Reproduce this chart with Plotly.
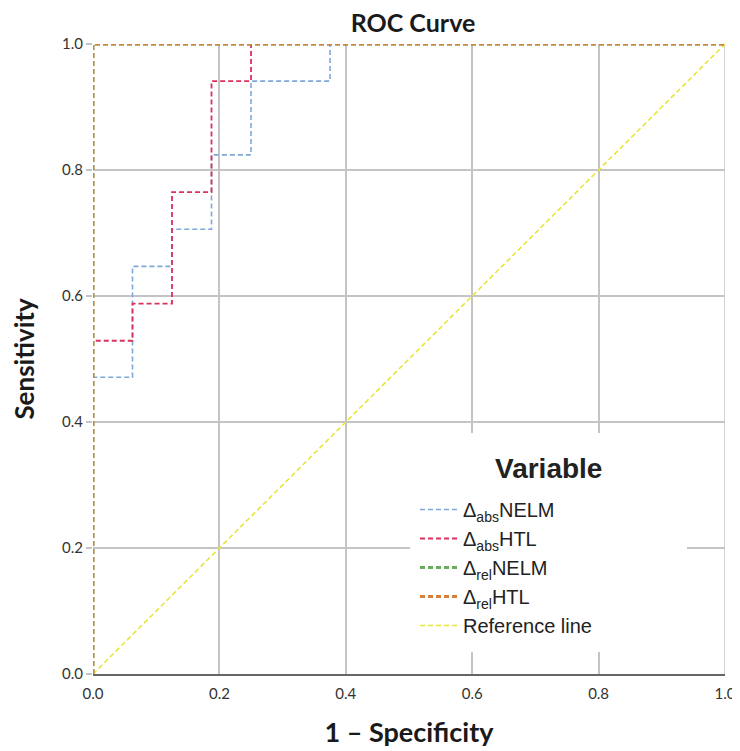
import plotly.graph_objects as go

# ROC step curves (1 - specificity, sensitivity)
abs_nelm_fpr = [0.0, 0.0, 0.0625, 0.0625, 0.125, 0.125, 0.1875, 0.1875, 0.25, 0.25, 0.375, 0.375, 1.0]
abs_nelm_tpr = [0.0, 0.471, 0.471, 0.647, 0.647, 0.706, 0.706, 0.824, 0.824, 0.941, 0.941, 1.0, 1.0]

abs_htl_fpr = [0.0, 0.0, 0.0625, 0.0625, 0.125, 0.125, 0.1875, 0.1875, 0.25, 0.25, 1.0]
abs_htl_tpr = [0.0, 0.529, 0.529, 0.588, 0.588, 0.765, 0.765, 0.941, 0.941, 1.0, 1.0]

rel_nelm_fpr = [0.0, 0.0, 1.0]
rel_nelm_tpr = [0.0, 1.0, 1.0]

rel_htl_fpr = [0.0, 0.0, 1.0]
rel_htl_tpr = [0.0, 1.0, 1.0]

ref_fpr = [0.0, 1.0]
ref_tpr = [0.0, 1.0]

tick_vals = [0, 0.2, 0.4, 0.6, 0.8, 1.0]
tick_text = ["0.0", "0.2", "0.4", "0.6", "0.8", "1.0"]

names = ["Δ<sub>abs</sub>NELM", "Δ<sub>abs</sub>HTL", "Δ<sub>rel</sub>NELM", "Δ<sub>rel</sub>HTL", "Reference line"]
colors = ["#7fa7d9", "#d9305c", "#6aab5e", "#d4803f", "#e6e63c"]
widths = [1.6, 1.8, 2.8, 2.8, 1.6]
xs = [abs_nelm_fpr, abs_htl_fpr, rel_nelm_fpr, rel_htl_fpr, ref_fpr]
ys = [abs_nelm_tpr, abs_htl_tpr, rel_nelm_tpr, rel_htl_tpr, ref_tpr]

# page has an 8px body margin: figure drawn at (8, 8)
OFF = 8
W, H = 740 - OFF, 751 - OFF
PL, PR, PT, PB = 93, 725, 44, 674   # plot area in page pixels

fig = go.Figure()
order = [4, 0, 1, 2, 3]
for i in order:
    fig.add_trace(go.Scatter(x=xs[i], y=ys[i], mode="lines", name=names[i],
                             legendrank=i + 1, cliponaxis=False,
                             line=dict(color=colors[i], width=widths[i], dash="5px,3px")))

grid = "#c4c4c4"
fig.update_layout(
    width=W, height=H,
    margin=dict(l=PL - OFF, r=740 - PR, t=PT - OFF, b=751 - PB),
    paper_bgcolor="white", plot_bgcolor="white",
    title=dict(text="<b>ROC Curve</b>", x=(413 - OFF) / W, xanchor="center",
               y=1 - (23 - OFF) / H, yanchor="middle",
               font=dict(family="Lato", size=25, color="#1a1a1a")),
    xaxis=dict(range=[0, 1], tickvals=tick_vals, ticktext=tick_text,
               showgrid=True, gridcolor=grid, gridwidth=1.5,
               showline=True, linecolor="#666", linewidth=1.5,
               zeroline=False, ticks="", automargin=False, ticklabelstandoff=5,
               tickfont=dict(family="Lato", size=15, color="#333"),
               title=dict(text="<b>1 – Specificity</b>", standoff=22,
                          font=dict(family="Lato", size=27, color="#1a1a1a"))),
    yaxis=dict(range=[0, 1], tickvals=tick_vals, ticktext=tick_text,
               showgrid=True, gridcolor=grid, gridwidth=1.5,
               showline=False, zeroline=False, automargin=False,
               ticks="outside", ticklen=6, tickcolor=grid, tickwidth=1.5,
               tickfont=dict(family="Lato", size=15, color="#333"),
               title=dict(text="<b>Sensitivity</b>", standoff=20,
                          font=dict(family="Lato", size=26, color="#1a1a1a"))),
    legend=dict(x=(415 - PL) / (PR - PL), y=(PB - 490) / (PB - PT), xanchor="left", yanchor="top",
                bgcolor="rgba(255,255,255,0)", borderwidth=0, itemwidth=38,
                tracegroupgap=0, traceorder="normal",
                font=dict(family="Liberation Sans", size=20, color="#222")),
    showlegend=True,
)
fig.add_annotation(text="<b>Variable</b>", xref="x", yref="y",
                   x=(548 - PL) / (PR - PL), y=(PB - 468) / (PB - PT),
                   showarrow=False, xanchor="center", yanchor="middle",
                   font=dict(family="Liberation Sans", size=28, color="#222"))
fig.add_shape(type="rect", xref="x", yref="y",
              x0=(410 - PL) / (PR - PL), x1=(687 - PL) / (PR - PL),
              y0=(PB - 652) / (PB - PT), y1=(PB - 433) / (PB - PT),
              fillcolor="white", line=dict(width=0), layer="between")
fig.add_shape(type="line", xref="x", yref="y", x0=1, x1=1, y0=0, y1=1,
              line=dict(color=grid, width=1.5), layer="between")

fig.write_html("out.html")
